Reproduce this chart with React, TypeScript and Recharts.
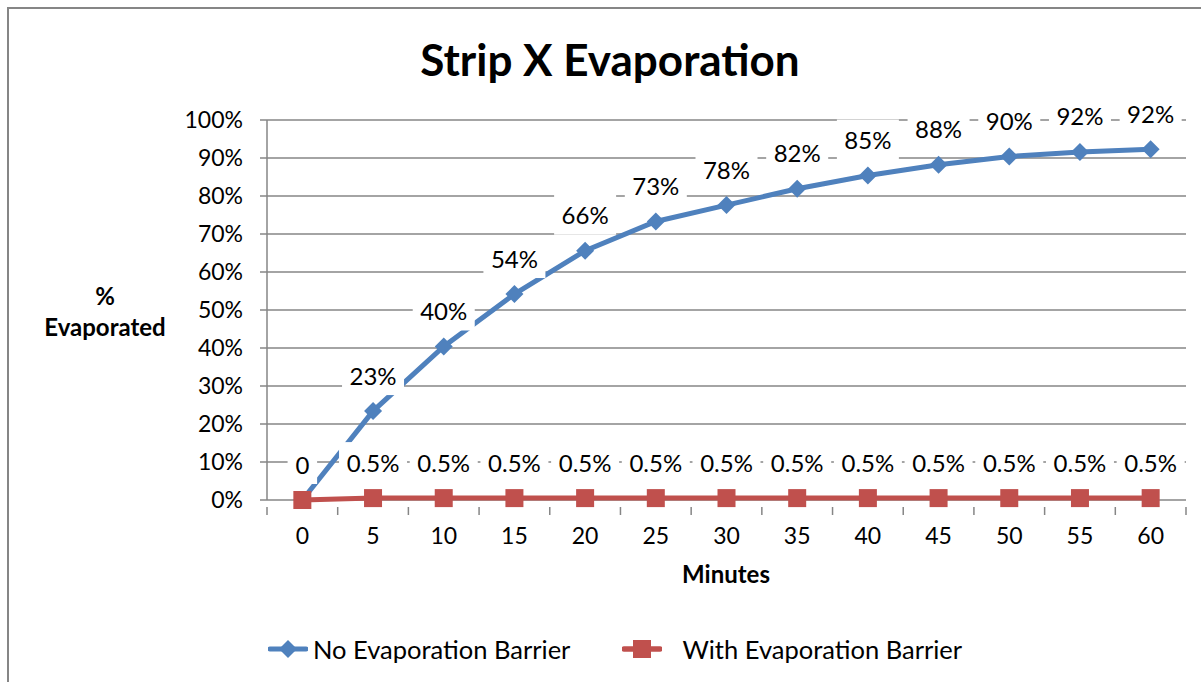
import React from "react";
import { LineChart, Line, XAxis, YAxis, CartesianGrid, LabelList, Legend } from "recharts";

const minutes = [0, 5, 10, 15, 20, 25, 30, 35, 40, 45, 50, 55, 60];
const noBarrier = [0, 23.4, 40.4, 54.2, 65.6, 73.3, 77.6, 81.9, 85.4, 88.2, 90.4, 91.6, 92.3];
const withBarrier = [0, 0.5, 0.5, 0.5, 0.5, 0.5, 0.5, 0.5, 0.5, 0.5, 0.5, 0.5, 0.5];
const yTicks = [0, 10, 20, 30, 40, 50, 60, 70, 80, 90, 100];
const seriesNames = ["No Evaporation Barrier", "With Evaporation Barrier"];
const blueLabels = noBarrier.map((v, i) => (i === 0 ? "" : `${Math.round(v)}%`));
const redLabels = withBarrier.map((v) => (v === 0 ? "0" : `${v}%`));

const data = minutes.map((m, i) => ({ minute: m, a: noBarrier[i], b: withBarrier[i] }));

const BLUE = "#4F81BD";
const RED = "#C0504D";
const GRID = "#868686";
const FONT = "Lato, 'Noto Sans', sans-serif";

const W = 1201;
const H = 682;
const PLOT_LEFT = 267;
const PLOT_RIGHT = 1186;
const PLOT_TOP = 120;
const PLOT_BOTTOM = 500;
const STEP = (PLOT_RIGHT - PLOT_LEFT) / minutes.length;

const LABEL_FS = 24;
const textWidth = (t: string) => {
  let w = 0;
  for (const c of t) w += c === "%" ? 19 : c === "." ? 6 : 13.5;
  return w;
};

const makeLabel = (texts: string[]) => (props: any) => {
  const { x, y, index } = props;
  const t = texts[index];
  if (!t) return null;
  const w = textWidth(t) + 16;
  const cy = y - 36;
  return (
    <g>
      <rect x={x - w / 2} y={cy - 20} width={w} height={40} fill="#fff" />
      <text x={x} y={cy} textAnchor="middle" dominantBaseline="central" fontFamily={FONT} fontSize={LABEL_FS} fill="#000">
        {t}
      </text>
    </g>
  );
};

const Diamond = (props: any) => {
  const { cx, cy, index } = props;
  if (cx == null || cy == null) return <g key={`d${index}`} />;
  const r = 9;
  return <path key={`d${index}`} d={`M${cx},${cy - r}L${cx + r},${cy}L${cx},${cy + r}L${cx - r},${cy}Z`} fill={BLUE} />;
};

const Square = (props: any) => {
  const { cx, cy, index } = props;
  if (cx == null || cy == null) return <g key={`s${index}`} />;
  const s = 9;
  return <rect key={`s${index}`} x={cx - s} y={cy - s} width={2 * s} height={2 * s} fill={RED} />;
};

const XTick = (props: any) => {
  const { x, y, payload, index } = props;
  const last = index === minutes.length - 1;
  return (
    <g>
      <line x1={x - STEP / 2} x2={x - STEP / 2} y1={y - 1} y2={y + 7} stroke={GRID} strokeWidth={1.5} />
      {last && <line x1={x + STEP / 2} x2={x + STEP / 2} y1={y - 1} y2={y + 7} stroke={GRID} strokeWidth={1.5} />}
      <text x={x} y={y + 27} textAnchor="middle" dominantBaseline="central" fontFamily={FONT} fontSize={23} fill="#000">
        {payload.value}
      </text>
    </g>
  );
};

const LegendContent = () => (
  <div style={{ display: "flex", alignItems: "center", fontFamily: FONT, fontSize: 25.5, color: "#000" }}>
    <svg width={40} height={20}>
      <line x1={2} x2={38} y1={10} y2={10} stroke={BLUE} strokeWidth={5} strokeLinecap="round" />
      <path d="M20,1L29,10L20,19L11,10Z" fill={BLUE} />
    </svg>
    <span style={{ marginLeft: 5 }}>{seriesNames[0]}</span>
    <svg width={40} height={20} style={{ marginLeft: 52 }}>
      <line x1={2} x2={38} y1={10} y2={10} stroke={RED} strokeWidth={5.5} strokeLinecap="round" />
      <rect x={11} y={1} width={18} height={18} fill={RED} />
    </svg>
    <span style={{ marginLeft: 20 }}>{seriesNames[1]}</span>
  </div>
);

export default function App() {
  return (
    <div style={{ position: "absolute", left: 0, top: 0, width: W, height: H, background: "#fff", overflow: "hidden" }}>
      <div
        style={{
          position: "absolute",
          left: 7,
          top: 7,
          width: W + 20,
          height: H + 20,
          borderLeft: `2px solid ${GRID}`,
          borderTop: `2px solid ${GRID}`,
        }}
      />
      <div
        style={{
          position: "absolute",
          left: 0,
          width: 1220,
          top: 32,
          textAlign: "center",
          fontFamily: FONT,
          fontWeight: 700,
          fontSize: 44,
          lineHeight: "54px",
          color: "#000",
        }}
      >
        Strip X Evaporation
      </div>
      <div
        style={{
          position: "absolute",
          left: 20,
          width: 170,
          top: 280,
          textAlign: "center",
          fontFamily: FONT,
          fontWeight: 700,
          fontSize: 24,
          lineHeight: "31px",
          color: "#000",
        }}
      >
        %<br />Evaporated
      </div>
      <div
        style={{
          position: "absolute",
          left: 626,
          width: 200,
          top: 559,
          textAlign: "center",
          fontFamily: FONT,
          fontWeight: 700,
          fontSize: 24,
          lineHeight: "30px",
          color: "#000",
        }}
      >
        Minutes
      </div>
      <div style={{ position: "absolute", left: 0, top: 0 }}>
        <LineChart
          width={W}
          height={H}
          data={data}
          margin={{ top: PLOT_TOP, right: W - PLOT_RIGHT, bottom: H - PLOT_BOTTOM - 30, left: PLOT_LEFT - 80 }}
        >
          <CartesianGrid vertical={false} stroke={GRID} strokeWidth={1.5} />
          <XAxis
            dataKey="minute"
            type="category"
            height={30}
            padding={{ left: STEP / 2, right: STEP / 2 }}
            axisLine={false}
            tickLine={false}
            tick={<XTick />}
            interval={0}
          />
          <YAxis
            width={80}
            domain={[0, 100]}
            ticks={yTicks}
            tickFormatter={(v: number) => `${v}%`}
            axisLine={{ stroke: GRID, strokeWidth: 1.5 }}
            tickLine={{ stroke: GRID, strokeWidth: 1.5 }}
            tickSize={7}
            tickMargin={17}
            tick={{ fontFamily: FONT, fontSize: 23, fill: "#000" }}
            interval={0}
          />
          <Legend
            layout="horizontal"
            verticalAlign="middle"
            align="center"
            content={<LegendContent />}
            wrapperStyle={{ position: "absolute", left: 268, top: 634, width: "auto" }}
          />
          <Line
            dataKey="a"
            name={seriesNames[0]}
            stroke={BLUE}
            strokeWidth={5}
            dot={<Diamond />}
            activeDot={false}
            isAnimationActive={false}
          >
            <LabelList dataKey="a" content={makeLabel(blueLabels)} />
          </Line>
          <Line
            dataKey="b"
            name={seriesNames[1]}
            stroke={RED}
            strokeWidth={5}
            dot={<Square />}
            activeDot={false}
            isAnimationActive={false}
          >
            <LabelList dataKey="b" content={makeLabel(redLabels)} />
          </Line>
        </LineChart>
      </div>
    </div>
  );
}
